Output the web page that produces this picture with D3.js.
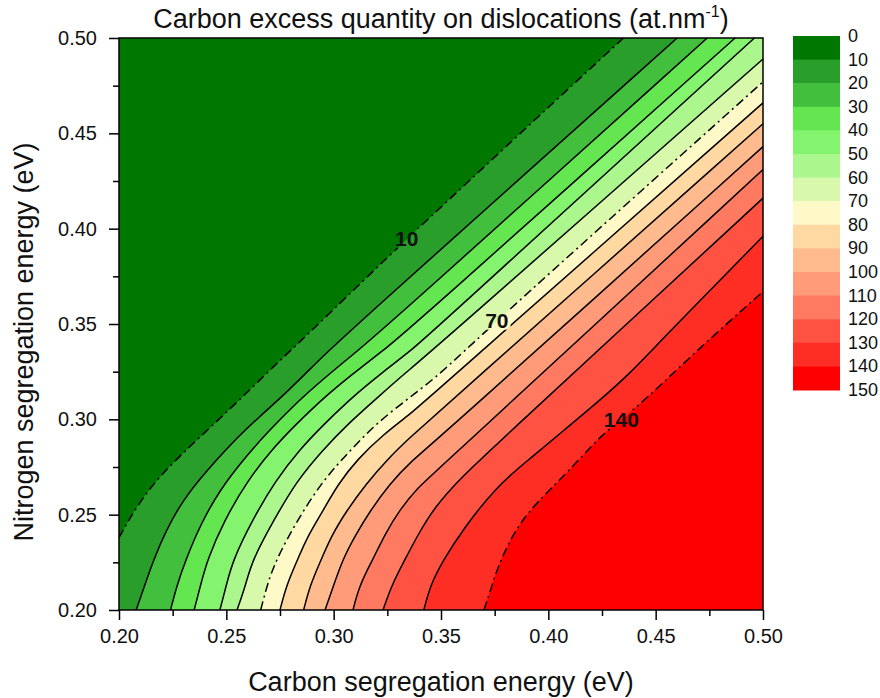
<!DOCTYPE html>
<html>
<head>
<meta charset="utf-8">
<script src="https://cdn.jsdelivr.net/npm/d3@7"></script>
<style>
  body { margin: 0; background: #fff; }
  text { font-family: "Liberation Sans", Arial, sans-serif; fill: #111; }
</style>
</head>
<body>
<div class="vis-contour"></div>
<script>
// contour levels (at.nm-1) and the colour of each band between two levels
const levels = [0, 10, 20, 30, 40, 50, 60, 70, 80, 90, 100, 110, 120, 130, 140, 150];
const bandColors = ['#007800', '#2a9e2a', '#42bf3c', '#64e650', '#84f46e', '#abf78e',
  '#d8f9ac', '#fff9c8', '#ffd8a2', '#ffba8e', '#ff9b78', '#ff7a60', '#ff5242', '#ff2e24', '#ff0000'];

// contour lines: [carbon energy, nitrogen energy] in eV
const line10 = [[0.200, 0.238], [0.209, 0.256], [0.221, 0.273], [0.238, 0.291], [0.256, 0.310],
  [0.275, 0.331], [0.294, 0.351], [0.334, 0.395], [0.435, 0.500]];
const line20 = [[0.208, 0.200], [0.212, 0.213], [0.216, 0.226], [0.222, 0.242], [0.230, 0.258],
  [0.240, 0.272], [0.252, 0.287], [0.265, 0.301], [0.279, 0.315], [0.293, 0.331], [0.308, 0.347], [0.460, 0.500]];
const line30 = [[0.224, 0.200], [0.227, 0.213], [0.231, 0.226], [0.238, 0.245], [0.247, 0.263],
  [0.258, 0.279], [0.269, 0.293], [0.282, 0.308], [0.295, 0.321], [0.309, 0.334], [0.323, 0.347], [0.474, 0.500]];
const line40 = [[0.235, 0.200], [0.238, 0.213], [0.241, 0.226], [0.249, 0.247], [0.260, 0.268],
  [0.271, 0.284], [0.283, 0.298], [0.296, 0.312], [0.309, 0.324], [0.323, 0.336], [0.336, 0.348], [0.487, 0.500]];
const line50 = [[0.247, 0.200], [0.250, 0.213], [0.253, 0.226], [0.262, 0.247], [0.273, 0.268],
  [0.284, 0.284], [0.296, 0.298], [0.309, 0.312], [0.322, 0.324], [0.336, 0.336], [0.348, 0.348], [0.496, 0.500]];
const line60 = [[0.255, 0.200], [0.259, 0.213], [0.262, 0.226], [0.272, 0.247], [0.283, 0.268],
  [0.295, 0.284], [0.307, 0.298], [0.321, 0.312], [0.333, 0.324], [0.347, 0.337], [0.500, 0.489]];
const line70 = [[0.266, 0.200], [0.269, 0.213], [0.273, 0.226], [0.283, 0.247], [0.295, 0.268],
  [0.308, 0.284], [0.320, 0.298], [0.336, 0.312], [0.350, 0.324], [0.376, 0.352], [0.500, 0.477]];
const line80 = [[0.275, 0.200], [0.278, 0.213], [0.283, 0.226], [0.288, 0.239], [0.295, 0.252],
  [0.302, 0.266], [0.311, 0.279], [0.323, 0.292], [0.336, 0.303], [0.347, 0.314], [0.500, 0.466]];
const line90 = [[0.286, 0.200], [0.289, 0.213], [0.294, 0.226], [0.299, 0.239], [0.306, 0.252],
  [0.315, 0.266], [0.325, 0.279], [0.336, 0.291], [0.347, 0.302], [0.500, 0.455]];
const line100 = [[0.296, 0.200], [0.300, 0.213], [0.304, 0.226], [0.310, 0.239], [0.317, 0.252],
  [0.326, 0.266], [0.336, 0.278], [0.347, 0.288], [0.500, 0.443]];
const line110 = [[0.309, 0.200], [0.312, 0.213], [0.318, 0.226], [0.324, 0.240], [0.331, 0.253],
  [0.339, 0.264], [0.347, 0.272], [0.500, 0.431]];
const line120 = [[0.323, 0.200], [0.327, 0.213], [0.333, 0.226], [0.339, 0.239], [0.347, 0.254],
  [0.359, 0.269], [0.373, 0.284], [0.500, 0.416]];
const line130 = [[0.342, 0.200], [0.345, 0.213], [0.351, 0.226], [0.360, 0.242], [0.376, 0.265],
  [0.391, 0.279], [0.407, 0.294], [0.423, 0.309], [0.438, 0.324], [0.453, 0.342], [0.500, 0.396]];
const line140 = [[0.370, 0.200], [0.373, 0.210], [0.376, 0.221], [0.381, 0.234], [0.387, 0.246],
  [0.396, 0.258], [0.408, 0.271], [0.424, 0.291], [0.434, 0.300], [0.444, 0.309], [0.471, 0.338], [0.500, 0.367]];

const contourLines = [line10, line20, line30, line40, line50, line60, line70,
  line80, line90, line100, line110, line120, line130, line140];
const dashedLevels = [10, 70, 140];
// which point of a line carries its label
const lineLabels = [{ level: 10, at: 7 }, { level: 70, at: 9 }, { level: 140, at: 8 }];

const xTicks = [0.20, 0.25, 0.30, 0.35, 0.40, 0.45, 0.50];
const yTicks = [0.20, 0.25, 0.30, 0.35, 0.40, 0.45, 0.50];
const minorTicks = [0.225, 0.275, 0.325, 0.375, 0.425, 0.475];

const margin = { top: 38, right: 117, bottom: 88, left: 119 };
const width = 880 - margin.left - margin.right;
const height = 698 - margin.top - margin.bottom;

const svg = d3.select('.vis-contour')
  .append('svg')
  .attr('width', 880)
  .attr('height', 698)
  .append('g')
  .attr('transform', `translate(${margin.left},${margin.top})`);

const x = d3.scaleLinear().domain([0.2, 0.5]).range([0, width]);
const y = d3.scaleLinear().domain([0.2, 0.5]).range([height, 0]);

// smooth the hand-read points a little
const curve = d3.line()
  .x((d) => x(d[0]))
  .y((d) => y(d[1]))
  .curve(d3.curveBasis);

// filled bands: paint the whole area with the lowest band, then each region above a level on top
svg.append('rect')
  .attr('width', width)
  .attr('height', height)
  .attr('fill', bandColors[0]);

const regionPath = (pts) => {
  const start = pts[0];
  const end = pts[pts.length - 1];
  const corners = [];
  if (end[1] >= 0.5) corners.push([0.5, 0.5]);
  corners.push([0.5, 0.2]);
  if (start[0] <= 0.2) corners.push([0.2, 0.2]);
  return curve(pts) + corners.map((c) => `L${x(c[0])},${y(c[1])}`).join('') + 'Z';
};

svg.append('g')
  .selectAll('path')
  .data(contourLines)
  .join('path')
  .attr('d', regionPath)
  .attr('fill', (d, i) => bandColors[i + 1]);

// contour labels
const labelG = svg.append('g');
lineLabels.forEach((l) => {
  const p = contourLines[levels.indexOf(l.level) - 1][l.at];
  labelG.append('text')
    .attr('x', x(p[0]))
    .attr('y', y(p[1]))
    .attr('text-anchor', 'middle')
    .attr('dominant-baseline', 'central')
    .style('font-size', '21px')
    .style('font-weight', 'bold')
    .text(l.level);
});

// break the lines under the labels
const mask = svg.append('mask').attr('id', 'label-mask');
mask.append('rect').attr('x', -10).attr('y', -10)
  .attr('width', width + 20).attr('height', height + 20).attr('fill', '#fff');
labelG.selectAll('text').each(function () {
  const b = this.getBBox();
  mask.append('rect')
    .attr('x', b.x - 2).attr('y', b.y + 2)
    .attr('width', b.width + 4).attr('height', b.height - 4)
    .attr('fill', '#000');
});

svg.append('g')
  .attr('mask', 'url(#label-mask)')
  .selectAll('path')
  .data(contourLines)
  .join('path')
  .attr('d', curve)
  .attr('fill', 'none')
  .attr('stroke', '#000')
  .attr('stroke-width', 1.5)
  .attr('stroke-dasharray', (d, i) => (dashedLevels.includes(levels[i + 1]) ? '9,4,2,4' : null));

labelG.raise();

// frame
svg.append('rect')
  .attr('width', width)
  .attr('height', height)
  .attr('fill', 'none')
  .attr('stroke', '#000')
  .attr('stroke-width', 1.5);

// axes
svg.append('g')
  .attr('transform', `translate(0,${height})`)
  .call(d3.axisBottom(x).tickValues(xTicks).tickSizeInner(10).tickSizeOuter(0)
    .tickPadding(9).tickFormat(d3.format('.2f')));
svg.append('g')
  .attr('transform', `translate(0,${height})`)
  .call(d3.axisBottom(x).tickValues(minorTicks).tickSize(6).tickFormat(''));
svg.append('g')
  .call(d3.axisLeft(y).tickValues(yTicks).tickSizeInner(10).tickSizeOuter(0)
    .tickPadding(12).tickFormat(d3.format('.2f')));
svg.append('g')
  .call(d3.axisLeft(y).tickValues(minorTicks).tickSize(6).tickFormat(''));

svg.selectAll('.domain').remove();
svg.selectAll('.tick line').attr('stroke', '#000').attr('stroke-width', 1.5);
svg.selectAll('.tick text').style('font-size', '20px').style('font-family', '"Liberation Sans", Arial, sans-serif');

// titles
const title = svg.append('text')
  .attr('x', width / 2)
  .attr('y', -10)
  .attr('text-anchor', 'middle')
  .style('font-size', '27px');
title.append('tspan').text('Carbon excess quantity on dislocations (at.nm');
title.append('tspan').attr('dy', -11).style('font-size', '16px').text('-1');
title.append('tspan').attr('dy', 11).text(')');

svg.append('text')
  .attr('x', width / 2)
  .attr('y', height + 81)
  .attr('text-anchor', 'middle')
  .style('font-size', '27px')
  .text('Carbon segregation energy (eV)');

svg.append('text')
  .attr('transform', `translate(${-86},${height / 2 + 18}) rotate(-90)`)
  .attr('text-anchor', 'middle')
  .style('font-size', '27px')
  .text('Nitrogen segregation energy (eV)');

// colour scale legend
const legendY = d3.scaleLinear().domain([0, 150]).range([-2, 352]);
const legend = svg.append('g').attr('transform', `translate(${width + 30},0)`);
legend.selectAll('rect')
  .data(bandColors)
  .join('rect')
  .attr('x', 0)
  .attr('y', (d, i) => legendY(levels[i]))
  .attr('width', 47)
  .attr('height', (d, i) => legendY(levels[i + 1]) - legendY(levels[i]) + 0.5)
  .attr('fill', (d) => d);
legend.selectAll('text')
  .data(levels)
  .join('text')
  .attr('x', 55)
  .attr('y', (d) => legendY(d))
  .attr('dominant-baseline', 'central')
  .style('font-size', '18px')
  .text((d) => d);
</script>
</body>
</html>
